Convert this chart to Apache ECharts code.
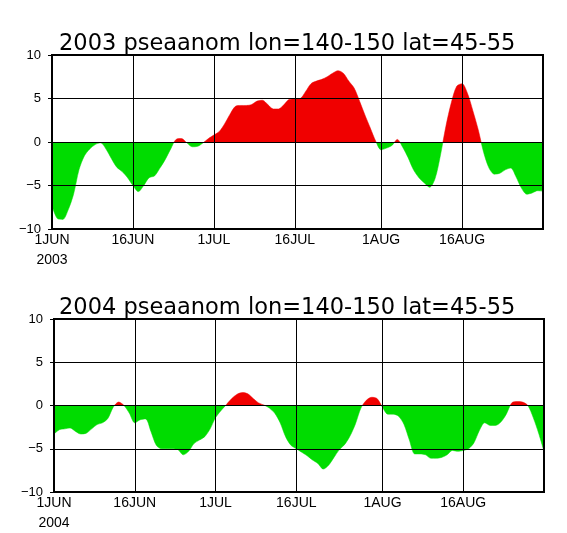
<!DOCTYPE html>
<html>
<head>
<meta charset="utf-8">
<script src="https://cdn.jsdelivr.net/npm/echarts@6/dist/echarts.min.js"></script>
<style>
html,body{margin:0;padding:0;background:#fff;}
#chart{width:567px;height:533px;}
</style>
</head>
<body>
<div id="chart"></div>
<script>
// ---- data (daily values, 1 Jun .. 31 Aug) ----
const titles = ['2003 pseaanom lon=140-150 lat=45-55', '2004 pseaanom lon=140-150 lat=45-55'];
const years = ['2003', '2004'];
const monthNames = ['JUN', 'JUL', 'AUG'];
const monthDays = [30, 31, 31];
const tickLabels = ['1JUN', '16JUN', '1JUL', '16JUL', '1AUG', '16AUG'];
const yTicks = [-10, -5, 0, 5, 10];

const anom2003 = [
  -7.3, -8.8, -8.9, -7.8, -6.0, -3.2, -1.6, -0.8, -0.3, -0.1,
  -0.8, -1.9, -2.9, -3.4, -4.1, -5.0, -5.7, -5.0, -4.1, -3.9,
  -3.0, -2.0, -0.8, 0.3, 0.4, -0.1, -0.55, -0.5, -0.1, 0.4,
  0.8, 1.2, 2.1, 3.2, 4.1, 4.2, 4.2, 4.3, 4.7, 4.8,
  4.3, 3.8, 3.8, 4.3, 4.9, 4.95, 5.0, 5.8, 6.7, 7.0,
  7.2, 7.5, 7.9, 8.2, 7.9, 7.0, 6.2, 4.7, 3.1, 1.6,
  0.1, -0.9, -0.7, -0.4, 0.3, -0.6, -1.8, -3.2, -4.1, -4.7,
  -5.2, -4.2, -1.5, 1.8, 4.5, 6.4, 6.7, 5.6, 3.6, 1.4,
  -1.2, -3.0, -3.7, -3.6, -3.2, -3.0, -4.0, -5.3, -6.0, -5.85,
  -5.6, -5.65
];
const anom2004 = [
  -3.3, -2.8, -2.7, -2.6, -3.0, -3.3, -3.2, -2.7, -2.2, -2.0,
  -1.5, -0.2, 0.4, 0.0, -0.9, -2.0, -1.65, -1.55, -3.0, -4.6,
  -5.0, -5.0, -5.0, -5.1, -5.7, -5.3, -4.4, -4.0, -3.6, -2.7,
  -1.4, -0.6, 0.1, 0.8, 1.3, 1.5, 1.35, 0.8, 0.3, 0.05,
  -0.3, -0.9, -2.0, -3.6, -4.6, -5.0, -5.4, -5.8, -6.3, -6.7,
  -7.35, -6.9, -6.0, -5.1, -4.5, -3.5, -2.1, -0.3, 0.6, 0.95,
  0.8, -0.2, -1.0, -1.0, -1.25, -2.2, -4.0, -5.6, -5.6, -5.7,
  -6.1, -6.1, -6.0, -5.7, -5.2, -5.3, -5.2, -5.0, -4.3, -2.9,
  -2.0, -2.3, -2.3, -1.9, -1.0, 0.3, 0.45, 0.4, 0.0, -1.4,
  -3.2, -5.3
];
const seriesData = [anom2003, anom2004];

// category labels like 1JUN ... 31AUG
const categories = [];
monthNames.forEach(function (m, i) {
  for (let d = 1; d <= monthDays[i]; d++) categories.push(d + m);
});

const RED = '#f00000';
const GREEN = '#00dc00';

const grids = [
  {left: 52, top: 55, width: 491, height: 174},
  {left: 54, top: 319, width: 490, height: 173}
];

const isTick = function (idx) { return tickLabels.indexOf(categories[idx]) >= 0; };

// red above zero, green below: hard-stop gradient spanning the grid (zero is the mid-line)
function splitFill(g) {
  return new echarts.graphic.LinearGradient(0, g.top, 0, g.top + g.height, [
    {offset: 0, color: RED},
    {offset: 0.5, color: RED},
    {offset: 0.5, color: GREEN},
    {offset: 1, color: GREEN}
  ], true);
}

const option = {
  backgroundColor: '#fff',
  animation: false,
  title: titles.map(function (t, i) {
    return {
      text: t,
      left: 54,
      top: grids[i].top - 27,
      textStyle: {fontFamily: 'DejaVu Sans', fontSize: 22.5, fontWeight: 'normal', color: '#000'}
    };
  }),
  grid: grids.map(function (g) {
    return Object.assign({show: true, borderColor: '#000', borderWidth: 2, backgroundColor: 'transparent', z: 5}, g);
  }),
  xAxis: grids.map(function (g, i) {
    return {
      type: 'category',
      gridIndex: i,
      data: categories,
      boundaryGap: false,
      z: 5,
      axisLine: {show: false},
      axisTick: {show: true, interval: isTick, length: 3, lineStyle: {color: '#000'}},
      splitLine: {show: true, interval: isTick, lineStyle: {color: '#000', width: 1}},
      axisLabel: {
        interval: isTick,
        margin: 1,
        color: '#000',
        fontFamily: 'Liberation Sans',
        fontSize: 14,
        lineHeight: 20,
        formatter: function (v, idx) { return idx === 0 ? v + '\n' + years[i] : v; }
      }
    };
  }),
  yAxis: grids.map(function (g, i) {
    return {
      type: 'value',
      gridIndex: i,
      min: yTicks[0],
      max: yTicks[yTicks.length - 1],
      interval: 5,
      z: 5,
      axisLine: {show: false},
      axisTick: {show: true, length: 4, lineStyle: {color: '#000'}},
      splitLine: {show: true, lineStyle: {color: '#000', width: 1}},
      axisLabel: {
        margin: 11,
        color: '#000',
        fontFamily: 'Liberation Sans',
        fontSize: 13,
        formatter: function (v) { return v < 0 ? '\u2212' + Math.abs(v) : String(v); }
      }
    };
  }),
  series: seriesData.map(function (d, i) {
    return {
      type: 'line',
      xAxisIndex: i,
      yAxisIndex: i,
      data: d,
      showSymbol: false,
      symbol: 'none',
      smooth: 0.3,
      z: 2,
      lineStyle: {width: 0.5, color: splitFill(grids[i])},
      areaStyle: {opacity: 1, origin: 0, color: splitFill(grids[i])}
    };
  })
};

const chart = echarts.init(document.getElementById('chart'), null, {renderer: 'canvas'});
chart.setOption(option);
</script>
</body>
</html>
